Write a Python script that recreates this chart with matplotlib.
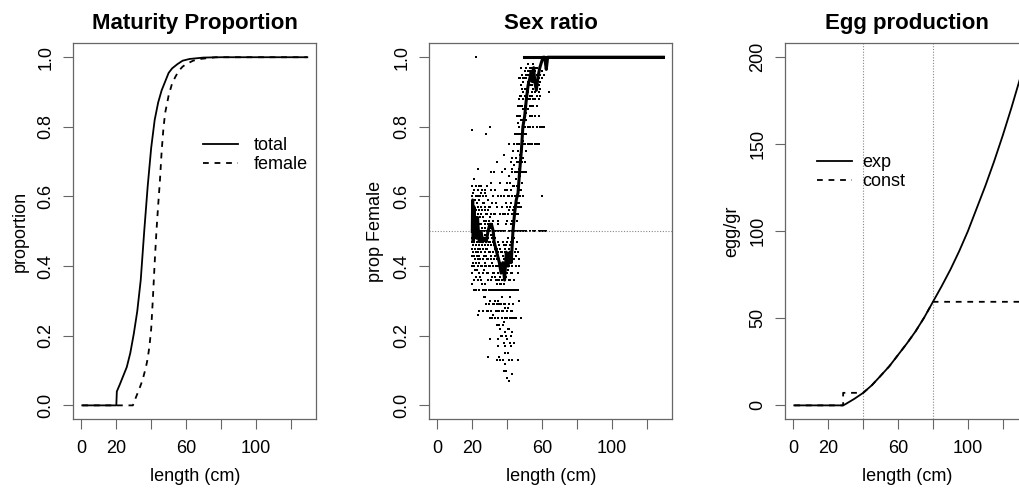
import numpy as np
import matplotlib
matplotlib.use("Agg")
import matplotlib.pyplot as plt

plt.rcParams['font.family'] = ['Liberation Sans', 'DejaVu Sans']

# ---- panel 1: maturity ogives
mat_total_len = [0.5, 20, 20.3, 22, 24, 26, 28, 30, 32, 34, 36, 38, 40, 42, 44, 46, 48,
                 50, 52, 55, 58, 62, 70, 80, 129.5]
mat_total = [0, 0, 0.04, 0.06, 0.085, 0.11, 0.15, 0.205, 0.27, 0.36, 0.50, 0.63, 0.74,
             0.82, 0.87, 0.905, 0.93, 0.955, 0.968, 0.98, 0.99, 0.995, 0.999, 1.0, 1.0]
mat_fem_len = [0.5, 29.5, 31, 33, 35, 37, 38, 39, 40, 41, 42, 43, 44, 45, 46, 47, 48,
               50, 52, 54, 56, 58, 60, 64, 68, 77, 129.5]
mat_fem = [0, 0, 0.02, 0.045, 0.072, 0.11, 0.135, 0.17, 0.22, 0.31, 0.41, 0.50, 0.575,
           0.645, 0.73, 0.795, 0.84, 0.89, 0.925, 0.945, 0.962, 0.973, 0.98, 0.99, 0.995,
           1.0, 1.0]

# ---- panel 2: observed proportion female by length, plus the smoothed line
sr_bin_len = [20, 20.5, 21, 21.5, 22, 22.5, 23, 23.5, 24, 24.5, 25, 25.5, 26, 26.5, 27,
              27.5, 28, 28.5, 29, 29.5, 30, 30.5, 31, 31.5, 32, 32.5, 33, 33.5, 34, 34.5,
              35, 35.5, 36, 36.5, 37, 37.5, 38, 38.5, 39, 39.5, 40, 40.5, 41, 41.5, 42,
              42.5, 43, 43.5, 44, 44.5, 45, 45.5, 46, 46.5, 47, 47.5, 48, 48.5, 49, 50,
              51, 52, 53, 54, 55, 56, 57, 58, 59, 60, 61, 62, 64]
sr_bin_prop = [
    [0.50, 0.52, 0.55, 0.48, 0.45, 0.58, 0.43, 0.40, 0.38, 0.35, 0.63, 0.60, 0.79, 0.47, 0.53],
    [0.50, 0.56, 0.44, 0.41, 0.61, 0.46, 0.54],
    [0.51, 0.49, 0.57, 0.43, 0.36, 0.33, 0.62, 0.47, 0.53, 0.65, 0.40],
    [0.50, 0.45, 0.55, 0.59, 0.42, 0.39, 0.52],
    [1.00, 0.52, 0.48, 0.44, 0.56, 0.60, 0.37, 0.41, 0.63, 0.50, 0.33, 0.46],
    [0.54, 0.47, 0.43, 0.58, 0.50, 0.39],
    [0.51, 0.45, 0.55, 0.62, 0.40, 0.36, 0.48, 0.68, 0.26, 0.57],
    [0.53, 0.44, 0.49, 0.60, 0.42],
    [0.50, 0.56, 0.46, 0.38, 0.43, 0.63, 0.41, 0.33, 0.27, 0.59],
    [0.49, 0.54, 0.45, 0.60, 0.37, 0.52, 0.42],
    [0.52, 0.48, 0.44, 0.55, 0.61, 0.40, 0.36, 0.47, 0.57, 0.63],
    [0.51, 0.46, 0.56, 0.40, 0.62, 0.35, 0.48],
    [0.50, 0.45, 0.54, 0.42, 0.38, 0.60, 0.33, 0.47, 0.27, 0.58],
    [0.48, 0.53, 0.43, 0.58, 0.39, 0.50, 0.31],
    [0.49, 0.53, 0.44, 0.41, 0.57, 0.62, 0.35, 0.46, 0.31, 0.51],
    [0.52, 0.46, 0.40, 0.56, 0.33, 0.61, 0.44],
    [0.78, 0.50, 0.47, 0.43, 0.55, 0.40, 0.33, 0.60, 0.29, 0.45, 0.53],
    [0.50, 0.45, 0.55, 0.38, 0.42, 0.27, 0.63],
    [0.14, 0.52, 0.48, 0.42, 0.38, 0.56, 0.27, 0.46, 0.36, 0.59],
    [0.47, 0.53, 0.40, 0.33, 0.57, 0.44, 0.29],
    [0.80, 0.19, 0.50, 0.44, 0.54, 0.40, 0.33, 0.47, 0.30, 0.57, 0.25],
    [0.49, 0.43, 0.55, 0.36, 0.33, 0.62, 0.46],
    [0.67, 0.51, 0.46, 0.42, 0.36, 0.55, 0.27, 0.49, 0.33, 0.64],
    [0.48, 0.52, 0.41, 0.33, 0.58, 0.37, 0.25],
    [0.50, 0.44, 0.40, 0.53, 0.33, 0.47, 0.29, 0.60, 0.38, 0.26],
    [0.46, 0.50, 0.38, 0.33, 0.55, 0.42, 0.29, 0.67],
    [0.48, 0.43, 0.37, 0.55, 0.33, 0.50, 0.30, 0.25, 0.45, 0.62],
    [0.45, 0.40, 0.50, 0.33, 0.36, 0.27, 0.58],
    [0.70, 0.50, 0.45, 0.40, 0.33, 0.57, 0.29, 0.42, 0.35, 0.27, 0.23, 0.13],
    [0.44, 0.38, 0.47, 0.33, 0.29, 0.53, 0.19, 0.60],
    [0.47, 0.43, 0.38, 0.33, 0.52, 0.30, 0.40, 0.25, 0.60, 0.36, 0.17],
    [0.42, 0.36, 0.46, 0.33, 0.27, 0.50, 0.23, 0.14],
    [0.50, 0.41, 0.37, 0.33, 0.45, 0.29, 0.55, 0.22, 0.35, 0.13, 0.64],
    [0.40, 0.35, 0.44, 0.33, 0.29, 0.50, 0.20, 0.60],
    [0.44, 0.40, 0.36, 0.33, 0.50, 0.27, 0.20, 0.57, 0.31, 0.25, 0.67],
    [0.39, 0.43, 0.33, 0.27, 0.47, 0.23, 0.55, 0.13],
    [0.42, 0.38, 0.35, 0.46, 0.33, 0.29, 0.18, 0.24, 0.50, 0.60, 0.10, 0.72],
    [0.40, 0.36, 0.45, 0.33, 0.29, 0.21, 0.50, 0.17, 0.62],
    [0.40, 0.36, 0.44, 0.33, 0.28, 0.21, 0.50, 0.25, 0.15, 0.55, 0.68, 0.12],
    [0.41, 0.37, 0.46, 0.33, 0.25, 0.52, 0.20, 0.10, 0.58],
    [0.42, 0.38, 0.47, 0.33, 0.27, 0.19, 0.53, 0.25, 0.57, 0.62, 0.64, 0.08],
    [0.43, 0.39, 0.48, 0.33, 0.28, 0.55, 0.22, 0.60, 0.15],
    [0.45, 0.40, 0.50, 0.36, 0.29, 0.22, 0.56, 0.33, 0.07, 0.60, 0.13, 0.66, 0.75],
    [0.46, 0.41, 0.50, 0.36, 0.31, 0.57, 0.25, 0.64, 0.18],
    [0.47, 0.43, 0.52, 0.38, 0.33, 0.27, 0.58, 0.20, 0.62, 0.17, 0.70, 0.50],
    [0.48, 0.44, 0.53, 0.38, 0.33, 0.60, 0.27, 0.68, 0.13],
    [0.50, 0.45, 0.55, 0.40, 0.33, 0.60, 0.25, 0.67, 0.21, 0.09, 0.71, 0.13],
    [0.52, 0.47, 0.56, 0.42, 0.33, 0.63, 0.29, 0.73],
    [0.53, 0.48, 0.57, 0.42, 0.63, 0.33, 0.69, 0.36, 0.25, 0.18, 0.75, 0.50],
    [0.55, 0.50, 0.60, 0.44, 0.33, 0.67, 0.25, 0.78],
    [0.55, 0.60, 0.50, 0.65, 0.45, 0.71, 0.40, 0.33, 0.78, 0.25, 0.43, 0.67],
    [0.58, 0.63, 0.53, 0.70, 0.47, 0.75, 0.33, 0.83],
    [0.60, 0.67, 0.55, 0.73, 0.50, 0.78, 0.44, 0.33, 0.81, 0.13, 0.38, 0.57, 0.86],
    [0.62, 0.68, 0.57, 0.75, 0.50, 0.80, 0.88, 0.40],
    [0.63, 0.70, 0.75, 0.58, 0.80, 0.50, 0.83, 0.67, 0.86, 0.42, 0.88, 0.30, 0.94],
    [0.66, 0.72, 0.78, 0.60, 0.83, 0.89, 0.50, 0.94],
    [0.67, 0.73, 0.78, 0.62, 0.82, 0.86, 0.50, 0.89, 0.71, 0.92, 0.57, 0.25, 0.97],
    [0.70, 0.76, 0.82, 0.86, 0.91, 0.64, 0.95],
    [0.71, 0.76, 0.81, 0.67, 0.85, 0.88, 0.90, 0.75, 0.93, 0.94, 0.60, 0.50],
    [0.75, 0.80, 0.83, 0.86, 0.70, 0.89, 0.91, 0.94, 0.67, 0.96, 0.78, 0.50],
    [0.78, 0.82, 0.86, 0.88, 0.91, 0.94, 0.73, 0.95, 0.97, 0.67, 0.84, 0.50],
    [0.80, 0.85, 0.88, 0.91, 0.93, 0.95, 0.75, 0.96, 0.98, 0.90],
    [0.83, 0.86, 0.89, 0.92, 0.94, 0.96, 0.80, 0.97, 0.88, 0.75, 0.50],
    [0.86, 0.89, 0.92, 0.94, 0.95, 0.97, 0.83, 0.90, 0.75],
    [0.88, 0.91, 0.93, 0.95, 0.96, 0.86, 0.98, 0.80, 0.50],
    [0.90, 0.92, 0.94, 0.96, 0.88, 0.97, 0.83, 0.75, 0.50],
    [0.91, 0.93, 0.95, 0.89, 0.97, 0.86, 0.80, 0.75],
    [0.92, 0.94, 0.96, 0.90, 0.88, 0.83, 0.75, 0.50],
    [0.93, 0.95, 0.91, 0.89, 0.80, 0.50],
    [0.94, 0.96, 0.60, 0.50, 0.80],
    [0.95, 0.80, 0.50],
    [0.50, 0.97],
    [0.90],
]
sr_line_len = [20, 20.2, 20.5, 21, 21.5, 22, 22.5, 23, 23.5, 24, 25, 26, 27, 28, 29, 30,
               31, 32, 32.5, 33.5, 34.5, 35.5, 36.5, 37.5, 38.5, 39.5, 40.5, 41.5, 42.3,
               43.3, 44.2, 45.2, 46.2, 47.1, 48.1, 49, 50, 51, 52, 53, 53.8, 54.4, 55.2,
               55.8, 56.7, 57.7, 58.7, 59.6, 60.6, 61.5, 62.4, 63.2, 129.5]
sr_line_prop = [0.50, 0.59, 0.47, 0.57, 0.50, 0.53, 0.48, 0.54, 0.50, 0.47, 0.50, 0.47,
                0.48, 0.47, 0.50, 0.52, 0.52, 0.50, 0.47, 0.45, 0.43, 0.41, 0.38, 0.41,
                0.36, 0.44, 0.40, 0.44, 0.41, 0.50, 0.55, 0.59, 0.61, 0.67, 0.73, 0.80,
                0.83, 0.88, 0.92, 0.94, 0.96, 0.93, 0.97, 0.93, 0.905, 0.945, 0.97, 0.985,
                1.0, 1.0, 0.965, 1.0, 1.0]
sr_top_len = [49.5, 129.5]
sr_top_prop = [1.0, 1.0]

# ---- panel 3: eggs per gram
egg_len = [0.5, 28.5, 30, 35, 40, 45, 50, 55, 60, 65, 70, 75, 80, 85, 90, 95, 100, 105,
           110, 115, 120, 125, 130]
egg_exp = [0, 0, 0.8, 3.8, 7.2, 11.6, 17.0, 22.5, 29.0, 35.5, 42.5, 50.5, 59.5, 68.5,
           78.0, 88.5, 100, 113, 126, 140, 155, 171, 188]
const_len = [0.5, 28.5, 28.5, 40, 45, 50, 55, 60, 65, 70, 75, 80, 130]
const_val = [0, 0, 7.2, 7.2, 11.6, 17.0, 22.5, 29.0, 35.5, 42.5, 50.5, 59.5, 59.5]
egg_refs = [40, 80]

x_ticks = [0, 20, 40, 60, 80, 100, 120]
x_labels = ['0', '20', '', '60', '', '100', '']
p_ticks = [0, 0.2, 0.4, 0.6, 0.8, 1.0]
p_labels = ['0.0', '0.2', '0.4', '0.6', '0.8', '1.0']
e_ticks = [0, 50, 100, 150, 200]
e_labels = ['0', '50', '100', '150', '200']

W, H = 1019, 496
fig = plt.figure(figsize=(W / 100, H / 100), dpi=100)
ax_w, ax_h, ax_b = 243, 376, H - 419.3
axes = [fig.add_axes([l / W, ax_b / H, ax_w / W, ax_h / H]) for l in (73.3, 429.3, 785.3)]

box_col = '#666666'
dash = (0, (3.2, 3.2))


def style(ax, title, ylabel, yt, yl, ylim):
    ax.set_xlim(-4.66, 134.66)
    ax.set_ylim(*ylim)
    ax.set_xticks(x_ticks)
    ax.set_xticklabels(x_labels)
    ax.set_yticks(yt)
    ax.set_yticklabels(yl, rotation=90, va='center')
    ax.tick_params(direction='out', length=7.2, width=0.8, color=box_col,
                   labelsize=13, pad=7.5)
    ax.tick_params(axis='y', pad=6.5)
    for s in ax.spines.values():
        s.set_color(box_col)
        s.set_linewidth(0.9)
    ax.text(0.5, 1 + 14 / ax_h, title, transform=ax.transAxes, ha='center',
            va='baseline', fontsize=16, fontweight='bold')
    ax.text(0.5, -62 / ax_h, 'length (cm)', transform=ax.transAxes, ha='center',
            va='baseline', fontsize=13)
    ax.text(-53.5 / ax_w, 0.5, ylabel, transform=ax.transAxes, ha='center',
            va='center', rotation=90, fontsize=13)


# maturity proportion
ax = axes[0]
ax.plot(mat_total_len, mat_total, color='black', lw=1.3, label='total')
ax.plot(mat_fem_len, mat_fem, color='black', lw=1.3, linestyle=dash, label='female')
style(ax, 'Maturity Proportion', 'proportion', p_ticks, p_labels, (-0.04, 1.04))
ax.legend(loc='upper left', bbox_to_anchor=(0.532, 0.75), frameon=False, fontsize=13,
          handlelength=1.95, handletextpad=0.9, labelspacing=0.12, borderpad=0,
          borderaxespad=0)

# sex ratio
ax = axes[1]
sr_len = np.repeat(sr_bin_len, [len(p) for p in sr_bin_prop])
sr_prop = np.concatenate(sr_bin_prop)
ax.axhline(0.5, color='#888888', lw=0.8, linestyle=(0, (1, 1.5)))
ax.scatter(sr_len, sr_prop, s=3, marker='s', color='black', linewidths=0)
ax.plot(sr_line_len, sr_line_prop, color='black', lw=2.2)
ax.plot(sr_top_len, sr_top_prop, color='black', lw=2.2)
style(ax, 'Sex ratio', 'prop Female', p_ticks, p_labels, (-0.04, 1.04))

# egg production
ax = axes[2]
for r in egg_refs:
    ax.axvline(r, color='#888888', lw=0.8, linestyle=(0, (1, 1.5)))
ax.plot(egg_len, egg_exp, color='black', lw=1.3, label='exp')
ax.plot(const_len, const_val, color='black', lw=1.3, linestyle=dash, label='const')
style(ax, 'Egg production', 'egg/gr', e_ticks, e_labels, (-8, 208))
ax.legend(loc='upper left', bbox_to_anchor=(0.129, 0.705), frameon=False, fontsize=13,
          handlelength=1.95, handletextpad=0.6, labelspacing=0.12, borderpad=0,
          borderaxespad=0)

fig.savefig('out.png', dpi=100)
